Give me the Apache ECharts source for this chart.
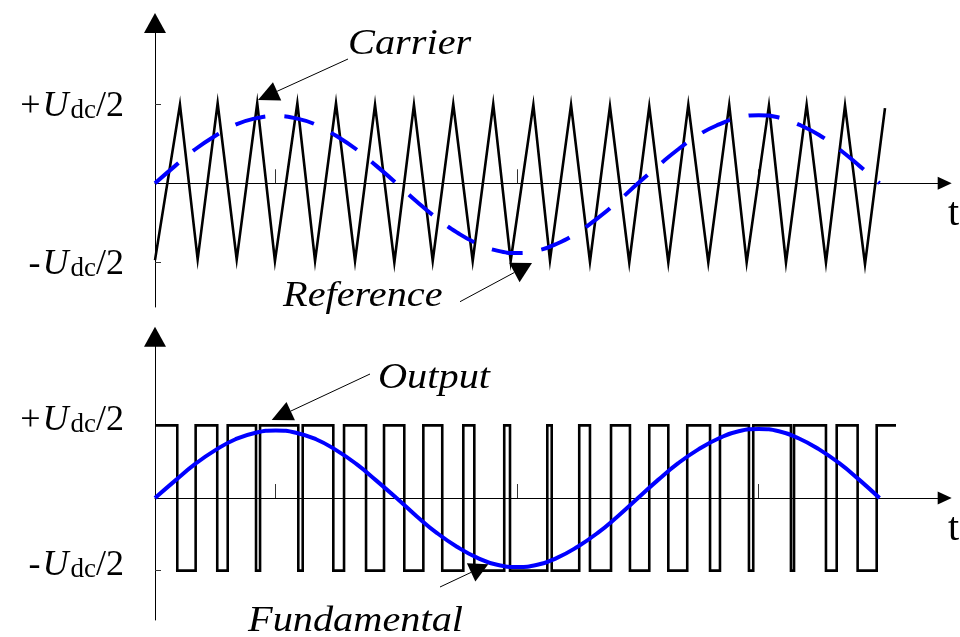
<!DOCTYPE html>
<html><head><meta charset="utf-8">
<script src="https://cdn.jsdelivr.net/npm/echarts@6/dist/echarts.min.js"></script>
<style>html,body{margin:0;padding:0;background:#fff}#c{width:960px;height:637px}</style>
</head><body><div id="c"></div>
<script>
// ---- data (x in electrical degrees, y in units of Udc/2) ----
const carrierT = [0, 18.6, 31.8, 46.7, 60.9, 76.2, 89.4, 106.1, 119.3, 134.9, 149.1, 164.0, 178.4, 193.0, 207.0, 222.3, 236.8, 252.1, 265.1, 282.0, 294.4, 310.1, 324.2, 339.1, 353.5, 368.4, 382.6, 397.5, 412.4, 428.0, 441.0, 457.6, 470.3, 485.7, 500.1, 514.3, 529.2, 544.1];
const carrierV = [-0.97, 0.99, -0.96, 1.01, -0.96, 1.01, -0.98, 1.01, -0.98, 1.01, -0.98, 0.99, -1.0, 0.99, -0.98, 1.0, -0.98, 1.0, -0.98, 0.99, -0.97, 0.99, -0.99, 0.97, -1.0, 0.97, -1.0, 0.99, -1.0, 0.99, -1.0, 0.98, -1.0, 0.99, -1.0, 0.98, -1.02, 0.95];
const refT = [0, 15, 30, 45, 60, 75, 90, 105, 120, 135, 150, 165, 180, 195, 210, 225, 240, 255, 270, 285, 300, 315, 330, 345, 360, 375, 390, 405, 420, 435, 450, 465, 480, 495, 510, 525, 540];
const refV = [0, 0.22, 0.43, 0.60, 0.74, 0.82, 0.85, 0.82, 0.74, 0.60, 0.43, 0.22, 0, -0.23, -0.44, -0.62, -0.76, -0.85, -0.88, -0.85, -0.76, -0.62, -0.44, -0.23, 0, 0.22, 0.43, 0.61, 0.74, 0.83, 0.86, 0.83, 0.74, 0.61, 0.43, 0.22, 0];
const fundT = refT;
const fundV = [0, 0.24, 0.47, 0.66, 0.81, 0.90, 0.93, 0.90, 0.81, 0.66, 0.47, 0.24, 0, -0.25, -0.48, -0.67, -0.82, -0.92, -0.95, -0.92, -0.82, -0.67, -0.48, -0.25, 0, 0.25, 0.48, 0.67, 0.82, 0.92, 0.95, 0.92, 0.82, 0.67, 0.48, 0.25, 0];
const pwmStartLevel = 1;
const pwmEdges = [16.6, 30.3, 46.4, 54.2, 75.3, 78.3, 106.8, 110.1, 132.9, 140.9, 157.3, 170.7, 185.8, 200.0, 214.1, 229.8, 238.0, 260.3, 264.6, 292.4, 295.7, 316.2, 324.2, 339.9, 354.0, 368.4, 382.6, 396.7, 413.7, 421.1, 442.7, 445.9, 474.0, 476.3, 500.1, 508.1, 523.7, 537.9];
const pwmEndT = 552.3;
const yTickValues = [-1, 1];
const xTickValues = [90, 270, 450];
const yTickSigns = { '1': '+', '-1': '-' };
const annotations = ['Carrier', 'Reference', 'Output', 'Fundamental'];
const timeName = 't';

// ---- build ----
const zip = (a, b) => a.map((v, i) => [v, b[i]]);
const pwm = [];
(function () {
  let lvl = pwmStartLevel;
  pwm.push([0, lvl]);
  pwmEdges.forEach(t => { pwm.push([t, lvl]); lvl = -lvl; pwm.push([t, lvl]); });
  pwm.push([pwmEndT, lvl]);
})();

const FONT = '"Liberation Serif", "Times New Roman", serif';
const labelRich = {
  p: { fontFamily: FONT, fontSize: 36, color: '#000', verticalAlign: 'bottom', padding: [0, 0, 0, 0] },
  u: { fontFamily: FONT, fontSize: 36, fontStyle: 'italic', color: '#000', verticalAlign: 'bottom', padding: [0, 2, 0, 2] },
  s: { fontFamily: FONT, fontSize: 27, color: '#000', verticalAlign: 'bottom', padding: [0, 0, 0, 0] }
};
function yLabel(v) {
  return '{p|' + yTickSigns[String(v)] + '}{u|U}{s|dc}{p|/2}';
}

function xAxisCfg(gi) {
  return {
    gridIndex: gi, type: 'value', min: 0, max: 588.6,
    axisLine: { show: true, onZero: true, symbol: ['none', 'triangle'], symbolSize: [13, 14], lineStyle: { color: '#000', width: 1 } },
    axisTick: { show: true, inside: true, length: 14, customValues: xTickValues, lineStyle: { color: '#333', width: 1 } },
    axisLabel: { show: false }, splitLine: { show: false }
  };
}
function yAxisCfg(gi, min, max, pad) {
  return {
    gridIndex: gi, type: 'value', min: min, max: max,
    axisLine: { show: true, onZero: true, symbol: ['none', 'triangle'], symbolSize: [22, 20], lineStyle: { color: '#000', width: 1 } },
    axisTick: { show: true, inside: true, length: 6, customValues: yTickValues, lineStyle: { color: '#333', width: 1 } },
    axisLabel: { show: true, customValues: yTickValues, margin: 31, formatter: yLabel, rich: labelRich, padding: pad },
    splitLine: { show: false }
  };
}

function arrow(x1, y1, x2, y2, len, hw) {
  const dx = x2 - x1, dy = y2 - y1, L = Math.hypot(dx, dy);
  const ux = dx / L, uy = dy / L;
  const bx = x2 - ux * len, by = y2 - uy * len;
  return [
    { type: 'line', shape: { x1: x1, y1: y1, x2: bx, y2: by }, style: { stroke: '#000', lineWidth: 1 }, z: 100 },
    { type: 'polygon', shape: { points: [[x2, y2], [bx - uy * hw, by + ux * hw], [bx + uy * hw, by - ux * hw]] }, style: { fill: '#000' }, z: 100 }
  ];
}
function annText(txt, x, y, italic, size, sx) {
  return { type: 'text', x: x, y: y, scaleX: sx, z: 100,
    style: { text: txt, font: (italic ? 'italic ' : '') + size + 'px ' + FONT, fill: '#000', align: 'left', verticalAlign: 'bottom' } };
}

const graphics = [].concat(
  arrow(348, 59, 258, 100, 21, 10),
  arrow(460, 301.7, 532, 263, 20, 11),
  arrow(370, 374, 271.7, 420, 21, 10),
  arrow(440, 587, 488.3, 564.3, 19, 10),
  [
    annText(annotations[0], 348, 63, true, 36, 1.12),
    annText(annotations[1], 283, 315, true, 36, 1.12),
    annText(annotations[2], 378, 397, true, 36, 1.12),
    annText(annotations[3], 248, 640, true, 36, 1.12),
    annText(timeName, 948, 234, false, 40, 1),
    annText(timeName, 948, 549, false, 40, 1)
  ]
);

const chart = echarts.init(document.getElementById('c'), null, { renderer: 'canvas' });
chart.setOption({
  animation: false,
  backgroundColor: '#fff',
  grid: [
    { left: 155, top: 23, width: 789.7, height: 284, containLabel: false },
    { left: 155, top: 336.7, width: 789.7, height: 283.3, containLabel: false }
  ],
  xAxis: [xAxisCfg(0), xAxisCfg(1)],
  yAxis: [yAxisCfg(0, -1.562, 2.024, [4, 0, 0, 0]), yAxisCfg(1, -1.68, 2.222, [0, 0, 10, 0])],
  series: [
    { name: 'Carrier', type: 'line', xAxisIndex: 0, yAxisIndex: 0, data: zip(carrierT, carrierV), showSymbol: false, symbol: 'none', lineStyle: { color: '#000', width: 2.6, join: 'miter' }, z: 3 },
    { name: 'Reference', type: 'line', xAxisIndex: 0, yAxisIndex: 0, data: zip(refT, refV), smooth: true, showSymbol: false, symbol: 'none', lineStyle: { color: '#0000ff', width: 4, type: [31, 19] }, z: 4 },
    { name: 'Output', type: 'line', xAxisIndex: 1, yAxisIndex: 1, data: pwm, showSymbol: false, symbol: 'none', lineStyle: { color: '#000', width: 2.6, join: 'miter' }, z: 3 },
    { name: 'Fundamental', type: 'line', xAxisIndex: 1, yAxisIndex: 1, data: zip(fundT, fundV), smooth: true, showSymbol: false, symbol: 'none', lineStyle: { color: '#0000ff', width: 4 }, z: 4 }
  ],
  graphic: graphics
});
</script></body></html>
